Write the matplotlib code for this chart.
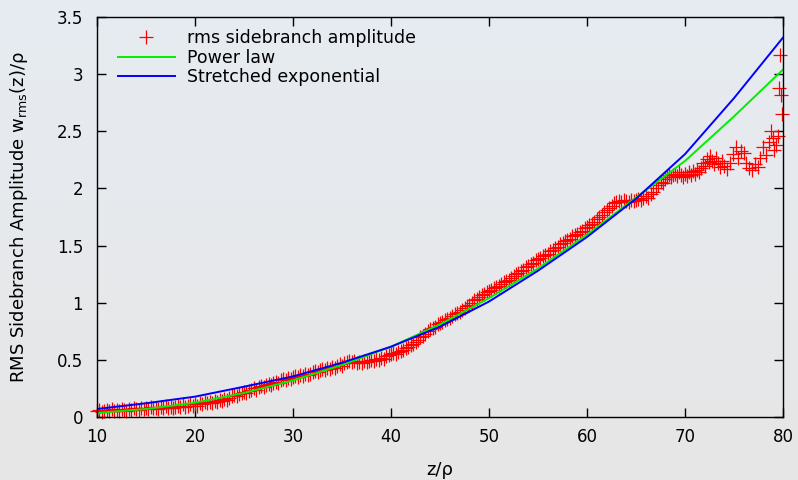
import numpy as np
import matplotlib
matplotlib.use("Agg")
import matplotlib.pyplot as plt
from matplotlib.ticker import FuncFormatter

# ---------------------------- data -----------------------------
# measured rms sidebranch amplitude (dense part, z = 10 ... 67.75)
rms_z = [
    10.00, 10.25, 10.50, 10.75, 11.00, 11.25, 11.50, 11.75,
    12.00, 12.25, 12.50, 12.75, 13.00, 13.25, 13.50, 13.75,
    14.00, 14.25, 14.50, 14.75, 15.00, 15.25, 15.50, 15.75,
    16.00, 16.25, 16.50, 16.75, 17.00, 17.25, 17.50, 17.75,
    18.00, 18.25, 18.50, 18.75, 19.00, 19.25, 19.50, 19.75,
    20.00, 20.25, 20.50, 20.75, 21.00, 21.25, 21.50, 21.75,
    22.00, 22.25, 22.50, 22.75, 23.00, 23.25, 23.50, 23.75,
    24.00, 24.25, 24.50, 24.75, 25.00, 25.25, 25.50, 25.75,
    26.00, 26.25, 26.50, 26.75, 27.00, 27.25, 27.50, 27.75,
    28.00, 28.25, 28.50, 28.75, 29.00, 29.25, 29.50, 29.75,
    30.00, 30.25, 30.50, 30.75, 31.00, 31.25, 31.50, 31.75,
    32.00, 32.25, 32.50, 32.75, 33.00, 33.25, 33.50, 33.75,
    34.00, 34.25, 34.50, 34.75, 35.00, 35.25, 35.50, 35.75,
    36.00, 36.25, 36.50, 36.75, 37.00, 37.25, 37.50, 37.75,
    38.00, 38.25, 38.50, 38.75, 39.00, 39.25, 39.50, 39.75,
    40.00, 40.25, 40.50, 40.75, 41.00, 41.25, 41.50, 41.75,
    42.00, 42.25, 42.50, 42.75, 43.00, 43.25, 43.50, 43.75,
    44.00, 44.25, 44.50, 44.75, 45.00, 45.25, 45.50, 45.75,
    46.00, 46.25, 46.50, 46.75, 47.00, 47.25, 47.50, 47.75,
    48.00, 48.25, 48.50, 48.75, 49.00, 49.25, 49.50, 49.75,
    50.00, 50.25, 50.50, 50.75, 51.00, 51.25, 51.50, 51.75,
    52.00, 52.25, 52.50, 52.75, 53.00, 53.25, 53.50, 53.75,
    54.00, 54.25, 54.50, 54.75, 55.00, 55.25, 55.50, 55.75,
    56.00, 56.25, 56.50, 56.75, 57.00, 57.25, 57.50, 57.75,
    58.00, 58.25, 58.50, 58.75, 59.00, 59.25, 59.50, 59.75,
    60.00, 60.25, 60.50, 60.75, 61.00, 61.25, 61.50, 61.75,
    62.00, 62.25, 62.50, 62.75, 63.00, 63.25, 63.50, 63.75,
    64.00, 64.25, 64.50, 64.75, 65.00, 65.25, 65.50, 65.75,
    66.00, 66.25, 66.50, 66.75, 67.00, 67.25, 67.50, 67.75,
]
rms_w = [
    0.05, 0.06, 0.04, 0.05, 0.06, 0.05, 0.07, 0.05,
    0.06, 0.05, 0.07, 0.06, 0.05, 0.07, 0.06, 0.08,
    0.07, 0.06, 0.08, 0.07, 0.08, 0.07, 0.09, 0.08,
    0.08, 0.07, 0.09, 0.08, 0.10, 0.08, 0.09, 0.08,
    0.09, 0.10, 0.09, 0.11, 0.09, 0.10, 0.11, 0.10,
    0.11, 0.10, 0.12, 0.11, 0.13, 0.12, 0.13, 0.12,
    0.14, 0.13, 0.15, 0.14, 0.16, 0.15, 0.17, 0.18,
    0.19, 0.18, 0.20, 0.21, 0.22, 0.21, 0.23, 0.24,
    0.25, 0.24, 0.26, 0.27, 0.26, 0.28, 0.29, 0.28,
    0.30, 0.31, 0.30, 0.32, 0.33, 0.32, 0.34, 0.33,
    0.35, 0.36, 0.35, 0.37, 0.36, 0.38, 0.37, 0.38,
    0.39, 0.40, 0.39, 0.41, 0.42, 0.41, 0.43, 0.42,
    0.44, 0.43, 0.45, 0.46, 0.45, 0.47, 0.48, 0.49,
    0.48, 0.49, 0.47, 0.48, 0.47, 0.49, 0.48, 0.49,
    0.50, 0.49, 0.51, 0.50, 0.52, 0.51, 0.53, 0.54,
    0.55, 0.56, 0.55, 0.57, 0.58, 0.59, 0.60, 0.61,
    0.63, 0.64, 0.66, 0.67, 0.70, 0.71, 0.73, 0.75,
    0.77, 0.78, 0.79, 0.81, 0.82, 0.83, 0.85, 0.86,
    0.87, 0.88, 0.90, 0.91, 0.92, 0.94, 0.95, 0.97,
    0.98, 1.00, 1.02, 1.03, 1.05, 1.07, 1.08, 1.09,
    1.10, 1.11, 1.13, 1.14, 1.15, 1.16, 1.18, 1.19,
    1.20, 1.22, 1.23, 1.25, 1.26, 1.28, 1.29, 1.31,
    1.32, 1.34, 1.35, 1.37, 1.38, 1.39, 1.41, 1.42,
    1.43, 1.45, 1.46, 1.48, 1.49, 1.51, 1.52, 1.54,
    1.55, 1.56, 1.58, 1.59, 1.60, 1.62, 1.63, 1.65,
    1.66, 1.68, 1.69, 1.71, 1.73, 1.75, 1.77, 1.79,
    1.81, 1.83, 1.85, 1.87, 1.88, 1.89, 1.88, 1.90,
    1.89, 1.88, 1.90, 1.89, 1.90, 1.91, 1.90, 1.92,
    1.93, 1.92, 1.95, 1.97, 2.00, 2.03, 2.06, 2.05,
]
# noisy tail (z > 68)
tail_z = [68.0, 68.2, 68.4, 68.6, 68.8, 69.0, 69.2, 69.4, 69.6, 69.8,
          70.0, 70.2, 70.4, 70.6, 70.8, 71.0, 71.2, 71.4, 71.6, 71.8,
          72.0, 72.2, 72.4, 72.6, 72.8, 73.0, 73.2, 73.4, 73.6, 73.8,
          74.0, 74.3, 74.6, 74.9, 75.2, 75.4, 75.7, 76.0, 76.2, 76.5,
          76.8, 77.1, 77.4, 77.7, 78.0, 78.3, 78.6, 78.8, 79.0, 79.1,
          79.3, 79.5, 79.6, 79.7, 79.75, 79.9]
tail_w = [2.08, 2.10, 2.12, 2.10, 2.12, 2.13, 2.11, 2.14, 2.12, 2.10,
          2.13, 2.11, 2.14, 2.12, 2.15, 2.13, 2.16, 2.14, 2.18, 2.22,
          2.20, 2.26, 2.23, 2.28, 2.24, 2.21, 2.27, 2.22, 2.19, 2.24,
          2.20, 2.17, 2.22, 2.30, 2.36, 2.27, 2.33, 2.31, 2.22, 2.18,
          2.16, 2.21, 2.19, 2.27, 2.36, 2.29, 2.41, 2.50, 2.44, 2.34,
          2.38, 2.46, 2.88, 3.17, 2.82, 2.65]

# fitted curves, read at 5 unit steps
fit_z = [10, 15, 20, 25, 30, 35, 40, 45, 50, 55, 60, 65, 70, 75, 80]
power_w = [0.035, 0.07, 0.125, 0.21, 0.32, 0.455, 0.615, 0.81,
           1.04, 1.30, 1.595, 1.92, 2.24, 2.63, 3.04]
stretch_w = [0.07, 0.12, 0.178, 0.265, 0.355, 0.475, 0.615, 0.79,
             1.01, 1.28, 1.575, 1.91, 2.30, 2.79, 3.32]

x_ticks = [10, 20, 30, 40, 50, 60, 70, 80]
y_ticks = [0, 0.5, 1, 1.5, 2, 2.5, 3, 3.5]
# ----------------------------------------------------------------

plt.rcParams["font.family"] = ["DejaVu Sans"]
plt.rcParams["font.size"] = 12

fig = plt.figure(figsize=(7.98, 4.8), dpi=100)

# gradient background (bluish grey top -> grey bottom)
bg = fig.add_axes([0, 0, 1, 1], zorder=-10)
top_c = np.array([231, 236, 242]) / 255
bot_c = np.array([230, 230, 230]) / 255
t = np.linspace(0, 1, 256)[:, None, None]
grad = top_c * (1 - t) + bot_c * t
bg.imshow(np.repeat(grad, 2, axis=1), aspect="auto", extent=[0, 1, 0, 1])
bg.axis("off")

ax = fig.add_axes([0.1216, 0.1313, 0.8596, 0.8333])
ax.set_facecolor("none")

ax.plot(rms_z + tail_z, rms_w + tail_w, ls="none", marker="+",
        ms=9.5, mew=0.9, color="#ff0000", clip_on=False,
        label="rms sidebranch amplitude")
ax.plot(fit_z, power_w, color="#00ee00", lw=1.4, label="Power law")
ax.plot(fit_z, stretch_w, color="#0000ff", lw=1.4,
        label="Stretched exponential")

ax.set_xlim(10, 80)
ax.set_ylim(0, 3.5)
ax.set_xticks(x_ticks)
ax.set_yticks(y_ticks)
ax.yaxis.set_major_formatter(FuncFormatter(lambda v, p: f"{v:g}"))
ax.tick_params(direction="in", length=6.5, width=1, top=True, right=True,
               labelsize=12)
ax.tick_params(axis="y", pad=10)
ax.tick_params(axis="x", pad=8)
for s in ax.spines.values():
    s.set_linewidth(1)

ax.set_xlabel("z/ρ", labelpad=11, fontsize=13)
ax.set_ylabel(r"RMS Sidebranch Amplitude w$_\mathrm{rms}$(z)/ρ",
              labelpad=19, fontsize=13)

ax.legend(loc="upper left", bbox_to_anchor=(0.03, 0.97), frameon=False,
          handlelength=3.3, handletextpad=0.7, labelspacing=0.1,
          borderpad=0, borderaxespad=0, fontsize=12.5)

fig.savefig("out.png", dpi=100)
